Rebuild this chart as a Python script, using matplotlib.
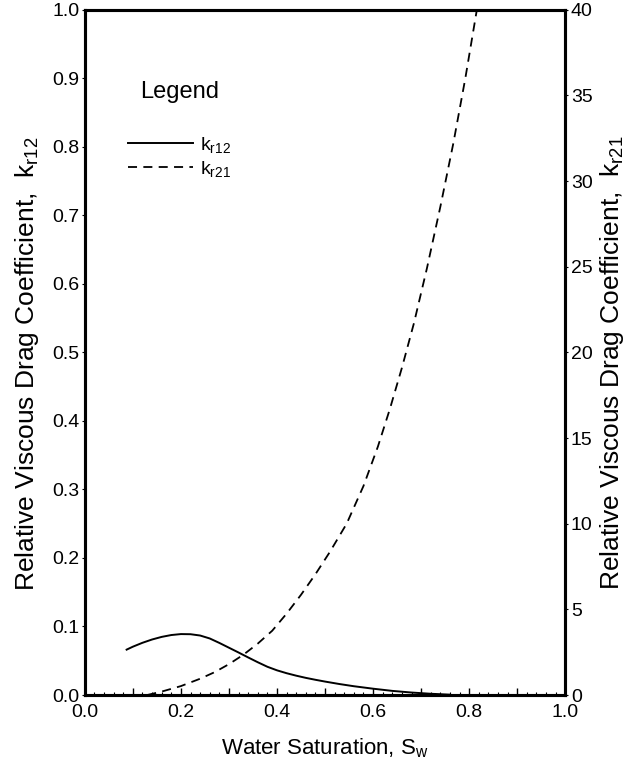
import matplotlib
matplotlib.use("Agg")
import matplotlib.pyplot as plt
from matplotlib.ticker import MultipleLocator, FuncFormatter

plt.rcParams['font.family'] = ['Liberation Sans', 'DejaVu Sans']
plt.rcParams['mathtext.fontset'] = 'custom'
plt.rcParams['mathtext.rm'] = 'Liberation Sans'
plt.rcParams['mathtext.it'] = 'Liberation Sans'

# k_r12 (left axis)
sw_12 = [0.087, 0.10, 0.12, 0.14, 0.16, 0.18, 0.20, 0.22, 0.24, 0.26, 0.28,
         0.30, 0.32, 0.34, 0.36, 0.38, 0.40, 0.42, 0.44, 0.46, 0.48, 0.50,
         0.53, 0.56, 0.60, 0.64, 0.68, 0.72, 0.76]
kr12 = [0.0662, 0.0705, 0.0762, 0.0810, 0.0848, 0.0875, 0.0889, 0.0887, 0.0868,
        0.0825, 0.0760, 0.0690, 0.0620, 0.0548, 0.0478, 0.0412, 0.0360, 0.0318,
        0.0282, 0.0250, 0.0222, 0.0196, 0.0160, 0.0128, 0.0092, 0.0060, 0.0036,
        0.0018, 0.0005]

# k_r21 (right axis)
sw_21 = [0.13, 0.16, 0.20, 0.24, 0.27, 0.30, 0.33, 0.36, 0.39, 0.42, 0.45,
         0.48, 0.51, 0.545, 0.58, 0.61, 0.635, 0.66, 0.685, 0.712, 0.74,
         0.767, 0.792, 0.816]
kr21 = [0.0, 0.2, 0.52, 0.95, 1.33, 1.8, 2.35, 3.0, 3.75, 4.75, 5.85,
        7.05, 8.35, 10.0, 12.2, 14.5, 16.7, 19.1, 21.7, 24.9, 28.5,
        32.2, 36.0, 40.0]

fig = plt.figure(figsize=(6.33, 7.70), dpi=100)
ax = fig.add_axes([0.134, 0.0974, 0.759, 0.890])
ax2 = ax.twinx()

l1, = ax.plot(sw_12, kr12, color='black', lw=1.4, label='k$_{\\rm r12}$')
l2, = ax2.plot(sw_21, kr21, color='black', lw=1.3, ls=(0, (5, 3.5)),
               label='k$_{\\rm r21}$')

ax.set_xlim(0, 1.0)
ax.set_ylim(0, 1.0)
ax2.set_ylim(0, 40)

ax.xaxis.set_major_locator(MultipleLocator(0.1))
ax.xaxis.set_minor_locator(MultipleLocator(0.02))
ax.xaxis.set_major_formatter(FuncFormatter(
    lambda v, p: f"{v:.1f}" if round(v * 10) % 2 == 0 else ""))
ax.yaxis.set_major_locator(MultipleLocator(0.1))
ax.yaxis.set_major_formatter(FuncFormatter(lambda v, p: f"{v:.1f}"))
ax2.yaxis.set_major_locator(MultipleLocator(5))

ax.tick_params(axis='x', which='major', direction='in', length=5, width=1,
               labelsize=14, pad=6.5)
ax.tick_params(axis='x', which='minor', direction='in', length=2, width=0.8)
ax.tick_params(axis='y', which='major', direction='out', length=2, width=0.8,
               labelsize=14, pad=2)
ax2.tick_params(axis='y', which='major', direction='out', length=2, width=0.8,
                labelsize=14, pad=2)

for a in (ax, ax2):
    for s in a.spines.values():
        s.set_linewidth(2.2)

ax.set_xlabel('Water Saturation, S$_{\\rm w}$', fontsize=16, labelpad=11)
ax.set_ylabel('Relative Viscous Drag Coefficient,  k$_{\\rm r12}$', fontsize=19,
              labelpad=8, y=0.483)
ax2.set_ylabel('Relative Viscous Drag Coefficient,  k$_{\\rm r21}$', fontsize=19,
               labelpad=4, y=0.485)

leg = ax.legend(handles=[l1, l2], title='Legend', loc='upper left',
                bbox_to_anchor=(0.0896, 0.896), frameon=False, fontsize=14,
                handlelength=3.35, handletextpad=0.36, labelspacing=0.2,
                borderpad=0, borderaxespad=0, title_fontsize=17)
leg._legend_box.sep = 23

fig.savefig('out.png', dpi=100)
